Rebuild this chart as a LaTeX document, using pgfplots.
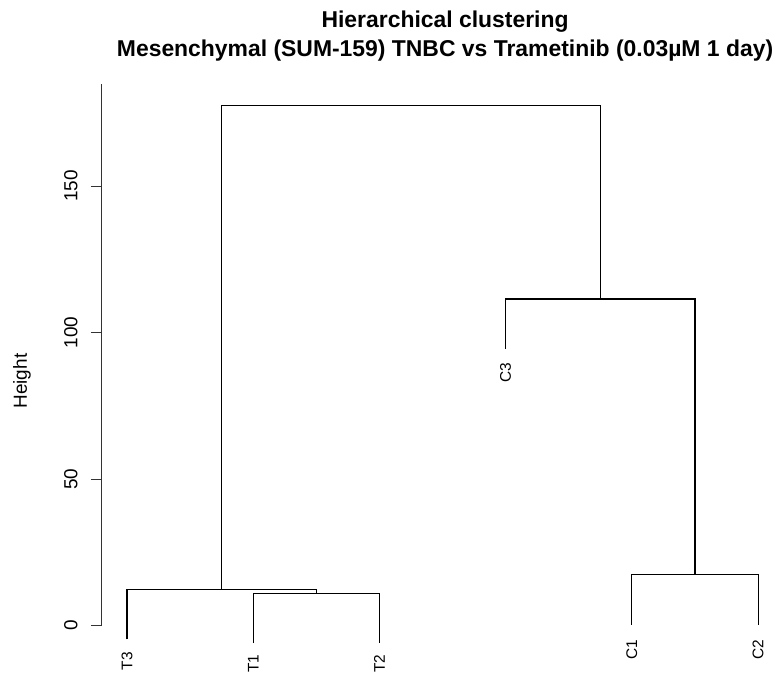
\documentclass[border=0pt]{standalone}
\usepackage{fontspec}
\setmainfont{Liberation Sans}
\usepackage{pgfplots}
\pgfplotsset{compat=1.18}
\begin{document}
\begin{tikzpicture}
\begin{axis}[
  scale only axis,
  width=681.48bp, height=542.05bp,
  xmin=0.8, xmax=6.2, ymin=0, ymax=185,
  clip=false,
  axis x line=none,
  axis y line=left,
  y axis line style={-, line width=0.9bp, color=black!80},
  ytick={0,50,100,150},
  tick align=outside,
  major tick length=11bp,
  ytick style={line width=0.9bp, color=black!80},
  /pgf/number format/assume math mode=true,
  yticklabel style={rotate=90, anchor=south, inner sep=0pt, font=\fontsize{19}{22}\selectfont},
  yticklabel shift=13bp,
]
\addplot[black, line width=1.1bp] coordinates {(2,-5.95) (2,11.05) (3,11.05) (3,-5.95)};
\addplot[black, line width=1.1bp] coordinates {(1,-4.7) (1,12.3) (2.5,12.3) (2.5,11.05)};
\addplot[black, line width=1.1bp] coordinates {(5,0.4) (5,17.4) (6,17.4) (6,0.4)};
\addplot[black, line width=1.1bp] coordinates {(4,94.5) (4,111.5) (5.5,111.5) (5.5,17.4)};
\addplot[black, line width=1.1bp] coordinates {(1.75,12.3) (1.75,177.5) (4.75,177.5) (4.75,111.5)};
% leaf labels
\node[rotate=90, anchor=east, inner sep=0pt, font=\fontsize{15.5}{19}\selectfont] at (axis cs:1,-9.0) {T3};
\node[rotate=90, anchor=east, inner sep=0pt, font=\fontsize{15.5}{19}\selectfont] at (axis cs:2,-9.9) {T1};
\node[rotate=90, anchor=east, inner sep=0pt, font=\fontsize{15.5}{19}\selectfont] at (axis cs:3,-9.9) {T2};
\node[rotate=90, anchor=east, inner sep=0pt, font=\fontsize{15.5}{19}\selectfont] at (axis cs:4,89.9) {C3};
\node[rotate=90, anchor=east, inner sep=0pt, font=\fontsize{15.5}{19}\selectfont] at (axis cs:5,-4.8) {C1};
\node[rotate=90, anchor=east, inner sep=0pt, font=\fontsize{15.5}{19}\selectfont] at (axis cs:6,-4.8) {C2};
% y label
\node[rotate=90, anchor=center, font=\fontsize{19}{22}\selectfont] at (axis cs:0.168,83.5) {Height};
% title
\node[anchor=base, font=\bfseries\fontsize{23}{27}\selectfont] at (axis cs:3.52,204.3) {Hierarchical clustering};
\node[anchor=base, font=\bfseries\fontsize{23}{27}\selectfont] at (axis cs:3.52,194.3) {Mesenchymal (SUM-159) TNBC vs Trametinib (0.03µM 1 day)};
\coordinate (bbsw) at (axis cs:-0.0067,-16.48);
\coordinate (bbne) at (axis cs:6.2056,213.55);
\end{axis}
\pgfresetboundingbox
\path[use as bounding box] (bbsw) rectangle (bbne);
\end{tikzpicture}
\end{document}
